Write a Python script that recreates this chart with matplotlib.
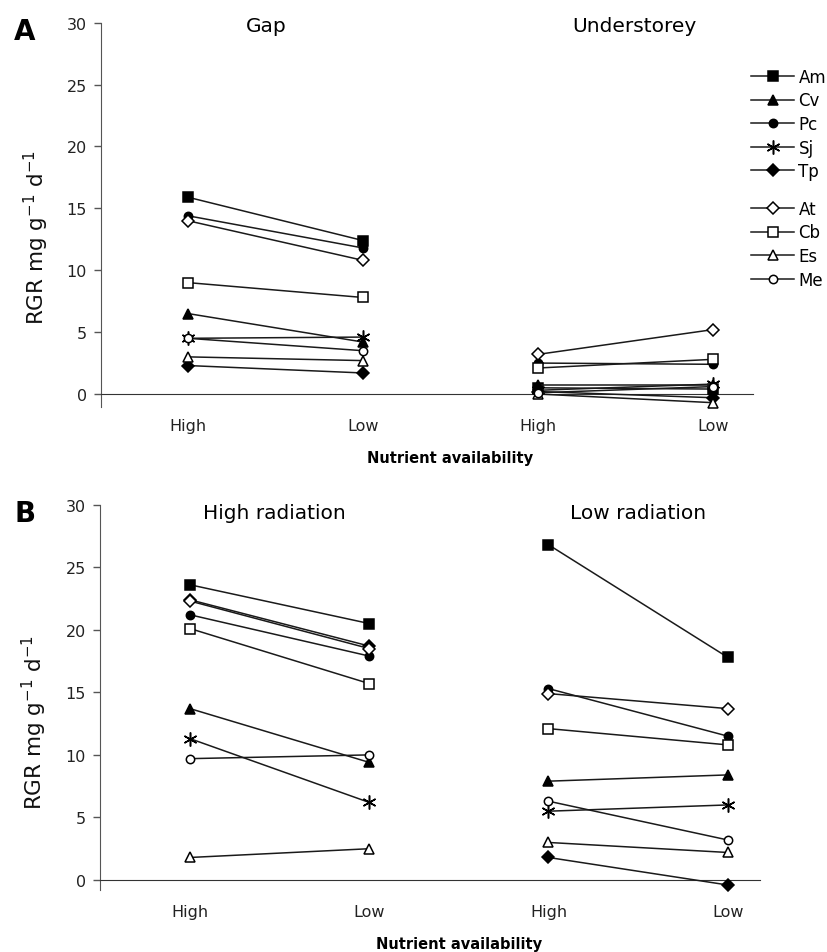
import numpy as np
import matplotlib
matplotlib.use("Agg")
import matplotlib.pyplot as plt
from matplotlib.transforms import blended_transform_factory

plt.rcParams['font.family'] = ['DejaVu Sans']

species = ['Am', 'Cv', 'Pc', 'Sj', 'Tp', 'At', 'Cb', 'Es', 'Me']
nutrient = ['High', 'Low', 'High', 'Low']

# RGR (mg g-1 d-1), one value per species in the order above
gap_high = [15.9, 6.5, 14.4, 4.5, 2.3, 14.0, 9.0, 3.0, 4.5]
gap_low = [12.4, 4.2, 11.8, 4.6, 1.7, 10.8, 7.8, 2.7, 3.5]
under_high = [0.5, 0.7, 2.5, 0.3, 0.2, 3.2, 2.1, 0.0, 0.1]
under_low = [0.4, 0.7, 2.4, 0.8, -0.3, 5.2, 2.8, -0.7, 0.6]

hirad_high = [23.6, 13.7, 21.2, 11.3, 22.4, 22.3, 20.1, 1.8, 9.7]
hirad_low = [20.5, 9.4, 17.9, 6.2, 18.7, 18.5, 15.7, 2.5, 10.0]
lorad_high = [26.8, 7.9, 15.3, 5.5, 1.8, 14.9, 12.1, 3.0, 6.3]
lorad_low = [17.8, 8.4, 11.5, 6.0, -0.4, 13.7, 10.8, 2.2, 3.2]

# marker, filled?, size
styles = {
    'Am': ('s', True, 7.5),
    'Cv': ('^', True, 7.5),
    'Pc': ('o', True, 6),
    'Sj': ((6, 2, 0), True, 10),
    'Tp': ('D', True, 6.5),
    'At': ('D', False, 6.5),
    'Cb': ('s', False, 7.5),
    'Es': ('^', False, 7.5),
    'Me': ('o', False, 6),
}

LINE = '#1a1a1a'


def draw_panel(ax, left, right, ylim, xlim, titles, letter):
    x = np.arange(1, 5)
    handles = {}
    for i, sp in enumerate(species):
        m, filled, ms = styles[sp]
        kw = dict(color=LINE, lw=1.1, marker=m, ms=ms, mec='black', mew=1.1,
                  mfc='black' if filled else 'white', zorder=3, clip_on=False)
        h, = ax.plot(x[:2], [left[0][i], left[1][i]], **kw)
        ax.plot(x[2:], [right[0][i], right[1][i]], **kw)
        handles[sp] = h

    ax.set_xlim(*xlim)
    ax.set_ylim(*ylim)
    ax.set_yticks(range(0, 31, 5))
    ax.set_xticks(x)
    ax.set_xticklabels(nutrient)
    for s in ['top', 'right']:
        ax.spines[s].set_visible(False)
    ax.spines['bottom'].set_position(('data', 0))
    ax.spines['bottom'].set_color('#333333')
    ax.spines['left'].set_color('#555555')
    ax.tick_params(axis='y', direction='out', length=5, width=1, color='#555555',
                   labelsize=11.5, pad=5, labelcolor='#222222')
    ax.tick_params(axis='x', length=0, labelsize=11.5, pad=17, labelcolor='#222222')

    ax.set_ylabel('RGR mg g$^{-1}$ d$^{-1}$', fontsize=15.5, color='#111111')
    ax.yaxis.set_label_coords(-0.077, (12.7 - ylim[0]) / (ylim[1] - ylim[0]))

    ax.text(2.5, -5.1, 'Nutrient availability', ha='center', va='center',
            fontsize=10.5, fontweight='bold', clip_on=False)
    ax.text(titles[3], titles[2], titles[0], ha='center', va='center', fontsize=14.5)
    ax.text(titles[4], titles[2], titles[1], ha='center', va='center', fontsize=14.5)

    tr = blended_transform_factory(ax.figure.transFigure, ax.transData)
    ax.text(0.03, 29.3, letter, transform=tr, ha='center', va='center',
            fontsize=20, fontweight='bold')
    return handles


fig = plt.figure(figsize=(8.27, 9.53), dpi=100)
W, H = 827, 953

axA = fig.add_axes([101 / W, 1 - 408 / H, (753 - 101) / W, (408 - 23.7) / H])
hA = draw_panel(axA, (gap_high, gap_low), (under_high, under_low),
                (-1.05, 30), (0.503, 4.23),
                ('Gap', 'Understorey', 29.8, 1.45, 3.55), 'A')

axB = fig.add_axes([100 / W, 1 - 891 / H, (760 - 100) / W, (891 - 505.7) / H])
draw_panel(axB, (hirad_high, hirad_low), (lorad_high, lorad_low),
           (-0.8, 30), (0.498, 4.18),
           ('High radiation', 'Low radiation', 29.4, 1.47, 3.5), 'B')

leg_kw = dict(frameon=False, fontsize=12, handlelength=2.6, handletextpad=0.25,
              labelspacing=0.33, borderpad=0, borderaxespad=0, loc='upper left')
leg1 = fig.legend([hA[s] for s in species[:5]], species[:5],
                  bbox_to_anchor=(751 / W, 1 - 69 / H), **leg_kw)
leg2 = fig.legend([hA[s] for s in species[5:]], species[5:],
                  bbox_to_anchor=(751 / W, 1 - 201 / H), **leg_kw)

fig.savefig('out.png', dpi=100)
